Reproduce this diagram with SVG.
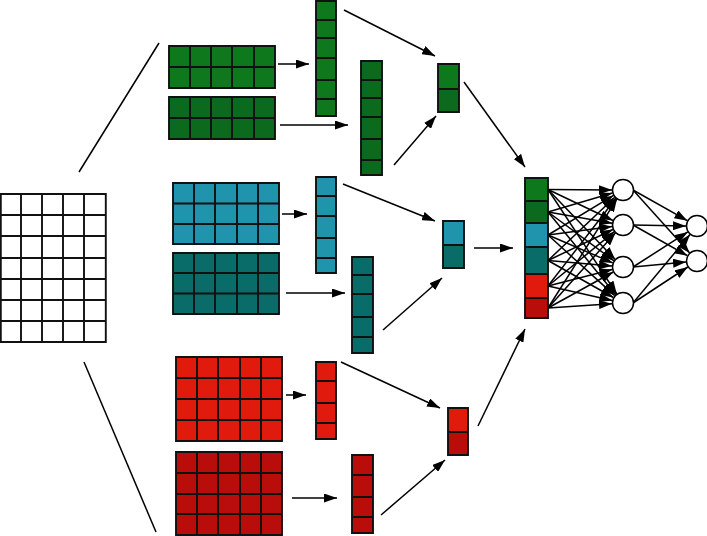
<svg xmlns="http://www.w3.org/2000/svg" width="707" height="536" viewBox="0 0 707 536">
<style>
.g{stroke:#111;stroke-width:1.9;fill:none}
.c{stroke:#000;stroke-width:1.5;fill:none}
.a{stroke:#000;stroke-width:1.5;fill:none;marker-end:url(#ah)}
.n{fill:#fff;stroke:#000;stroke-width:1.5}
.gr1{fill:#0e781c}
.gr2{fill:#0b6a1d}
.cy{fill:#2094ac}
.te{fill:#0a6c68}
.rd{fill:#e11a0e}
.dr{fill:#b80d0b}
.wh{fill:#fff}
</style>
<defs>
<marker id="ah" markerUnits="userSpaceOnUse" markerWidth="13" markerHeight="9" refX="13" refY="4.5" orient="auto">
<path d="M0,0 L13,4.5 L0,9 z" fill="#000"/>
</marker>
</defs>

<g id="input-grid">
<rect class="wh" x="0.8" y="194" width="105" height="148"/>
<path class="g" d="M0.8,194H105.8V342H0.8Z M21,194V342 M42,194V342 M63,194V342 M84,194V342 M0.8,215H105.8 M0.8,236H105.8 M0.8,258H105.8 M0.8,279H105.8 M0.8,300H105.8 M0.8,321H105.8"/>
</g>

<g id="green-map-1">
<rect class="gr1" x="169" y="46" width="106" height="42"/>
<path class="g" d="M169,46H275V88H169Z M190,46V88 M211,46V88 M232,46V88 M254,46V88 M169,67H275"/>
</g>
<g id="green-map-2">
<rect class="gr2" x="169" y="97" width="106" height="42"/>
<path class="g" d="M169,97H275V139H169Z M190,97V139 M211,97V139 M232,97V139 M254,97V139 M169,118H275"/>
</g>
<g id="cyan-map-1">
<rect class="cy" x="173" y="183" width="106" height="61"/>
<path class="g" d="M173,183H279V244H173Z M194,183V244 M215,183V244 M237,183V244 M258,183V244 M173,203.5H279 M173,224H279"/>
</g>
<g id="teal-map-2">
<rect class="te" x="173" y="253" width="106" height="61"/>
<path class="g" d="M173,253H279V314H173Z M194,253V314 M215,253V314 M237,253V314 M258,253V314 M173,273H279 M173,293.5H279"/>
</g>
<g id="red-map-1">
<rect class="rd" x="176" y="357" width="106" height="84"/>
<path class="g" d="M176,357H282V441H176Z M197,357V441 M218,357V441 M240,357V441 M261,357V441 M176,378H282 M176,399H282 M176,420H282"/>
</g>
<g id="darkred-map-2">
<rect class="dr" x="176" y="452" width="106" height="83"/>
<path class="g" d="M176,452H282V535H176Z M197,452V535 M218,452V535 M240,452V535 M261,452V535 M176,473H282 M176,494H282 M176,514H282"/>
</g>

<g id="green-vec-1">
<rect class="gr1" x="316" y="1" width="20" height="115"/>
<path class="g" d="M316,1H336V116H316Z M316,20H336 M316,38H336 M316,58H336 M316,80H336 M316,99H336"/>
</g>
<g id="green-vec-2">
<rect class="gr2" x="361" y="61" width="21" height="114"/>
<path class="g" d="M361,61H382V175H361Z M361,80H382 M361,98H382 M361,117H382 M361,139H382 M361,160H382"/>
</g>
<g id="cyan-vec-1">
<rect class="cy" x="316" y="177" width="20" height="96"/>
<path class="g" d="M316,177H336V273H316Z M316,196H336 M316,216H336 M316,238H336 M316,258H336"/>
</g>
<g id="teal-vec-2">
<rect class="te" x="352" y="257" width="21" height="96"/>
<path class="g" d="M352,257H373V353H352Z M352,275H373 M352,294H373 M352,317H373 M352,337H373"/>
</g>
<g id="red-vec-1">
<rect class="rd" x="316" y="362" width="20" height="77"/>
<path class="g" d="M316,362H336V439H316Z M316,381H336 M316,403H336 M316,423H336"/>
</g>
<g id="darkred-vec-2">
<rect class="dr" x="352" y="455" width="21" height="78"/>
<path class="g" d="M352,455H373V533H352Z M352,475H373 M352,497H373 M352,517H373"/>
</g>

<g id="green-pool">
<rect class="gr1" x="438" y="64" width="21" height="25"/>
<rect class="gr2" x="438" y="89" width="21" height="23"/>
<path class="g" d="M438,64H459V112H438Z M438,89H459"/>
</g>
<g id="cyan-pool">
<rect class="cy" x="443" y="221" width="21" height="24"/>
<rect class="te" x="443" y="245" width="21" height="23"/>
<path class="g" d="M443,221H464V268H443Z M443,245H464"/>
</g>
<g id="red-pool">
<rect class="rd" x="448" y="408" width="20" height="24"/>
<rect class="dr" x="448" y="432" width="20" height="23"/>
<path class="g" d="M448,408H468V455H448Z M448,432H468"/>
</g>

<g id="connectors">
<line class="c" x1="79" y1="172" x2="159" y2="43"/>
<line class="c" x1="84" y1="362" x2="156" y2="532"/>
<line class="a" x1="278" y1="64" x2="309" y2="64"/>
<line class="a" x1="280" y1="125" x2="348" y2="125"/>
<line class="a" x1="282" y1="214" x2="307" y2="214"/>
<line class="a" x1="286" y1="293" x2="345" y2="293"/>
<line class="a" x1="286" y1="395" x2="306" y2="395"/>
<line class="a" x1="292" y1="498" x2="337" y2="498"/>
<line class="a" x1="344" y1="10" x2="435" y2="56"/>
<line class="a" x1="394" y1="165" x2="436" y2="116"/>
<line class="a" x1="343" y1="184" x2="435" y2="221"/>
<line class="a" x1="383" y1="330" x2="442" y2="278"/>
<line class="a" x1="341" y1="362" x2="440" y2="408"/>
<line class="a" x1="381" y1="515" x2="445" y2="460"/>
<line class="a" x1="464" y1="82" x2="525" y2="167"/>
<line class="a" x1="474" y1="248" x2="513" y2="248"/>
<line class="a" x1="478" y1="426" x2="525" y2="329"/>

<line class="a" x1="548" y1="189.5" x2="612" y2="189.9"/>
<line class="a" x1="548" y1="212" x2="612.4" y2="193"/>
<line class="a" x1="548" y1="235" x2="613.5" y2="195.4"/>
<line class="a" x1="548" y1="260.5" x2="614.8" y2="197.2"/>
<line class="a" x1="548" y1="286" x2="616" y2="198.3"/>
<line class="a" x1="548" y1="308" x2="617" y2="198.9"/>

<line class="a" x1="548" y1="189.5" x2="613" y2="220.5"/>
<line class="a" x1="548" y1="212" x2="612.2" y2="223.2"/>
<line class="a" x1="548" y1="235" x2="612.1" y2="226.4"/>
<line class="a" x1="548" y1="260.5" x2="613" y2="229.5"/>
<line class="a" x1="548" y1="286" x2="614.4" y2="231.6"/>
<line class="a" x1="548" y1="308" x2="615.5" y2="232.8"/>

<line class="a" x1="548" y1="189.5" x2="615.2" y2="259.5"/>
<line class="a" x1="548" y1="212" x2="614" y2="260.8"/>
<line class="a" x1="548" y1="235" x2="612.8" y2="262.9"/>
<line class="a" x1="548" y1="260.5" x2="612" y2="266.1"/>
<line class="a" x1="548" y1="286" x2="612.3" y2="269.6"/>
<line class="a" x1="548" y1="308" x2="613.3" y2="272"/>

<line class="a" x1="548" y1="189.5" x2="616.8" y2="294"/>
<line class="a" x1="548" y1="212" x2="615.8" y2="294.7"/>
<line class="a" x1="548" y1="235" x2="614.7" y2="295.6"/>
<line class="a" x1="548" y1="260.5" x2="613.4" y2="297.5"/>
<line class="a" x1="548" y1="286" x2="612.3" y2="300.6"/>
<line class="a" x1="548" y1="308" x2="612" y2="303.7"/>

<line class="a" x1="633" y1="190" x2="687.4" y2="220.7"/>
<line class="a" x1="633" y1="190" x2="689.7" y2="252.9"/>
<line class="a" x1="633" y1="225" x2="686" y2="226"/>
<line class="a" x1="633" y1="225" x2="687.4" y2="255.7"/>
<line class="a" x1="633" y1="267" x2="687.8" y2="231.9"/>
<line class="a" x1="633" y1="267" x2="686" y2="262"/>
<line class="a" x1="633" y1="303" x2="690" y2="234.5"/>
<line class="a" x1="633" y1="303" x2="687.8" y2="267"/>
</g>

<g id="concat-vector">
<rect class="gr1" x="525" y="178" width="23" height="23"/>
<rect class="gr2" x="525" y="201" width="23" height="22"/>
<rect class="cy" x="525" y="223" width="23" height="24"/>
<rect class="te" x="525" y="247" width="23" height="27"/>
<rect class="rd" x="525" y="274" width="23" height="24"/>
<rect class="dr" x="525" y="298" width="23" height="20"/>
<path class="g" d="M525,178H548V318H525Z M525,201H548 M525,223H548 M525,247H548 M525,274H548 M525,298H548"/>
</g>

<g id="hidden-1"><circle class="n" cx="623" cy="190" r="10.5"/></g>
<g id="hidden-2"><circle class="n" cx="623" cy="225" r="10.5"/></g>
<g id="hidden-3"><circle class="n" cx="623" cy="267" r="10.5"/></g>
<g id="hidden-4"><circle class="n" cx="623" cy="303" r="10.5"/></g>
<g id="output-1"><circle class="n" cx="697" cy="226" r="10.5"/></g>
<g id="output-2"><circle class="n" cx="697" cy="261" r="10.5"/></g>
</svg>
